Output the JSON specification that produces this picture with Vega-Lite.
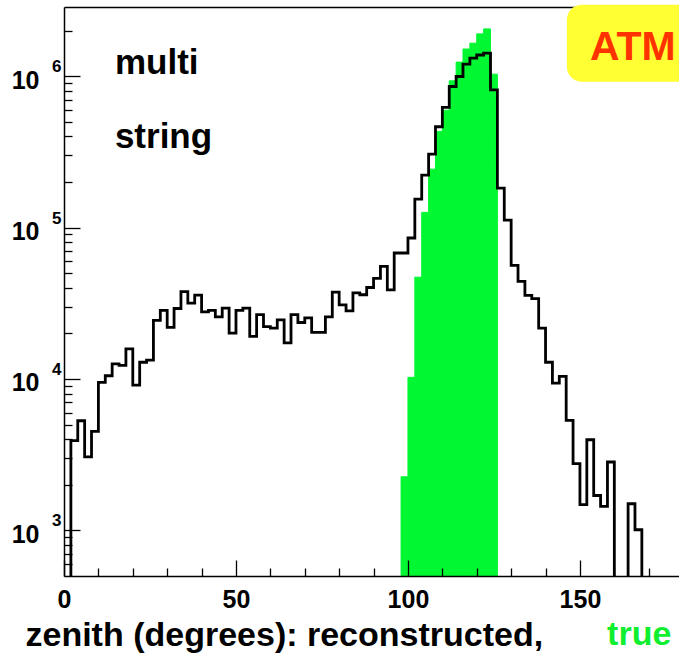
{
  "$schema": "https://vega.github.io/schema/vega-lite/v6.json",
  "width": 615,
  "height": 569,
  "autosize": {"type": "none"},
  "padding": {"left": 64, "top": 7, "right": 0, "bottom": 78},
  "background": "white",
  "config": {
    "view": {"stroke": null},
    "font": "Liberation Sans",
    "axis": {
      "domainColor": "black",
      "domainWidth": 1.5,
      "tickColor": "black",
      "tickWidth": 1.3,
      "grid": false,
      "labelColor": "black",
      "labelFont": "Liberation Sans",
      "labelFontWeight": "bold",
      "titleColor": "black",
      "titleFont": "Liberation Sans",
      "titleFontWeight": "bold"
    }
  },
  "datasets": {
    "reco": [
      {"lo": 0, "hi": 2, "n": 1},
      {"lo": 2, "hi": 4, "n": 3920},
      {"lo": 4, "hi": 6, "n": 5300},
      {"lo": 6, "hi": 8, "n": 3060},
      {"lo": 8, "hi": 10, "n": 4510},
      {"lo": 10, "hi": 12, "n": 9500},
      {"lo": 12, "hi": 14, "n": 10500},
      {"lo": 14, "hi": 16, "n": 12600},
      {"lo": 16, "hi": 18, "n": 12300},
      {"lo": 18, "hi": 20, "n": 15800},
      {"lo": 20, "hi": 22, "n": 9100},
      {"lo": 22, "hi": 24, "n": 12900},
      {"lo": 24, "hi": 26, "n": 13300},
      {"lo": 26, "hi": 28, "n": 24400},
      {"lo": 28, "hi": 30, "n": 28400},
      {"lo": 30, "hi": 32, "n": 21900},
      {"lo": 32, "hi": 34, "n": 29200},
      {"lo": 34, "hi": 36, "n": 37700},
      {"lo": 36, "hi": 38, "n": 31700},
      {"lo": 38, "hi": 40, "n": 35800},
      {"lo": 40, "hi": 42, "n": 27700},
      {"lo": 42, "hi": 44, "n": 28400},
      {"lo": 44, "hi": 46, "n": 25700},
      {"lo": 46, "hi": 48, "n": 29400},
      {"lo": 48, "hi": 50, "n": 20100},
      {"lo": 50, "hi": 52, "n": 28400},
      {"lo": 52, "hi": 54, "n": 29400},
      {"lo": 54, "hi": 56, "n": 19100},
      {"lo": 56, "hi": 58, "n": 26600},
      {"lo": 58, "hi": 60, "n": 22200},
      {"lo": 60, "hi": 62, "n": 21700},
      {"lo": 62, "hi": 64, "n": 24600},
      {"lo": 64, "hi": 66, "n": 17300},
      {"lo": 66, "hi": 68, "n": 26600},
      {"lo": 68, "hi": 70, "n": 23600},
      {"lo": 70, "hi": 72, "n": 25300},
      {"lo": 72, "hi": 74, "n": 20300},
      {"lo": 74, "hi": 76, "n": 20300},
      {"lo": 76, "hi": 78, "n": 25700},
      {"lo": 78, "hi": 80, "n": 37500},
      {"lo": 80, "hi": 82, "n": 30900},
      {"lo": 82, "hi": 84, "n": 28200},
      {"lo": 84, "hi": 86, "n": 37000},
      {"lo": 86, "hi": 88, "n": 36000},
      {"lo": 88, "hi": 90, "n": 40200},
      {"lo": 90, "hi": 92, "n": 46100},
      {"lo": 92, "hi": 94, "n": 55400},
      {"lo": 94, "hi": 96, "n": 38800},
      {"lo": 96, "hi": 98, "n": 67900},
      {"lo": 98, "hi": 100, "n": 67900},
      {"lo": 100, "hi": 102, "n": 85300},
      {"lo": 102, "hi": 104, "n": 154000},
      {"lo": 104, "hi": 106, "n": 222000},
      {"lo": 106, "hi": 108, "n": 305000},
      {"lo": 108, "hi": 110, "n": 463000},
      {"lo": 110, "hi": 112, "n": 621000},
      {"lo": 112, "hi": 114, "n": 854000},
      {"lo": 114, "hi": 116, "n": 994000},
      {"lo": 116, "hi": 118, "n": 1200000},
      {"lo": 118, "hi": 120, "n": 1315000},
      {"lo": 120, "hi": 122, "n": 1378000},
      {"lo": 122, "hi": 124, "n": 1420000},
      {"lo": 124, "hi": 126, "n": 812000},
      {"lo": 126, "hi": 128, "n": 182000},
      {"lo": 128, "hi": 130, "n": 112000},
      {"lo": 130, "hi": 132, "n": 56200},
      {"lo": 132, "hi": 134, "n": 44100},
      {"lo": 134, "hi": 136, "n": 35600},
      {"lo": 136, "hi": 138, "n": 33900},
      {"lo": 138, "hi": 140, "n": 21700},
      {"lo": 140, "hi": 142, "n": 12900},
      {"lo": 142, "hi": 144, "n": 9400},
      {"lo": 144, "hi": 146, "n": 10400},
      {"lo": 146, "hi": 148, "n": 5330},
      {"lo": 148, "hi": 150, "n": 2760},
      {"lo": 150, "hi": 152, "n": 1480},
      {"lo": 152, "hi": 154, "n": 3970},
      {"lo": 154, "hi": 156, "n": 1700},
      {"lo": 156, "hi": 158, "n": 1440},
      {"lo": 158, "hi": 160, "n": 2830},
      {"lo": 160, "hi": 162, "n": 1},
      {"lo": 162, "hi": 164, "n": 1},
      {"lo": 164, "hi": 166, "n": 1500},
      {"lo": 166, "hi": 168, "n": 1010},
      {"lo": 168, "hi": 170, "n": 1},
      {"lo": 170, "hi": 172, "n": 1},
      {"lo": 172, "hi": 174, "n": 1},
      {"lo": 174, "hi": 176, "n": 1},
      {"lo": 176, "hi": 178, "n": 1},
      {"lo": 178, "hi": 180, "n": 1}
    ],
    "truth": [
      {"lo": 98, "hi": 100, "n": 2260},
      {"lo": 100, "hi": 102, "n": 10250},
      {"lo": 102, "hi": 104, "n": 47000},
      {"lo": 104, "hi": 106, "n": 126000},
      {"lo": 106, "hi": 108, "n": 243000},
      {"lo": 108, "hi": 110, "n": 431000},
      {"lo": 110, "hi": 112, "n": 595000},
      {"lo": 112, "hi": 114, "n": 931000},
      {"lo": 114, "hi": 116, "n": 1237000},
      {"lo": 116, "hi": 118, "n": 1510000},
      {"lo": 118, "hi": 120, "n": 1650000},
      {"lo": 120, "hi": 122, "n": 1900000},
      {"lo": 122, "hi": 124, "n": 2050000},
      {"lo": 124, "hi": 126, "n": 1030000}
    ],
    "decades": [
      {"v": 1000, "e": "3"},
      {"v": 10000, "e": "4"},
      {"v": 100000, "e": "5"},
      {"v": 1000000, "e": "6"}
    ],
    "single": [{}]
  },
  "resolve": {"axis": {"x": "independent", "y": "independent"}},
  "layer": [
    {
      "data": {"name": "truth"},
      "mark": {"type": "rect", "color": "#00f732", "stroke": "#00f732", "strokeWidth": 1},
      "encoding": {
        "x": {
          "field": "lo", "type": "quantitative",
          "scale": {"domain": [0, 178.8], "nice": false, "zero": false},
          "axis": {
            "orient": "bottom", "values": [0, 50, 100, 150], "tickSize": -16,
            "labelFontSize": 25, "labelPadding": 27, "labelFlush": false, "labelOverlap": false,
            "title": "zenith (degrees): reconstructed,", "titleFontSize": 34,
            "titleAnchor": "start", "titleAlign": "left", "titleBaseline": "alphabetic",
            "titleX": -39, "titleY": 69, "zindex": 1
          }
        },
        "x2": {"field": "hi"},
        "y": {
          "field": "n", "type": "quantitative",
          "scale": {"type": "log", "domain": [500, 2860000], "nice": false},
          "axis": {
            "orient": "left", "values": [1000, 10000, 100000, 1000000], "tickSize": -16,
            "labelExpr": "'10'", "labelFontSize": 25, "labelPadding": 41, "labelOffset": 4,
            "labelFlush": false, "labelOverlap": false, "title": null, "zindex": 1
          }
        },
        "y2": {"datum": 500}
      }
    },
    {
      "data": {"name": "reco"},
      "mark": {"type": "line", "interpolate": "step-after", "color": "black", "strokeWidth": 2.8, "clip": true},
      "encoding": {
        "x": {
          "field": "lo", "type": "quantitative",
          "scale": {"domain": [0, 178.8], "nice": false, "zero": false},
          "axis": {
            "orient": "bottom", "values": [10, 20, 30, 40, 60, 70, 80, 90, 110, 120, 130, 140, 160, 170],
            "tickSize": -8, "labels": false, "domain": false, "title": null, "zindex": 1
          }
        },
        "y": {
          "field": "n", "type": "quantitative",
          "scale": {"type": "log", "domain": [500, 2860000], "nice": false},
          "axis": {
            "orient": "left",
            "values": [600, 700, 800, 900, 2000, 3000, 4000, 5000, 6000, 7000, 8000, 9000, 20000, 30000, 40000, 50000, 60000, 70000, 80000, 90000, 200000, 300000, 400000, 500000, 600000, 700000, 800000, 900000, 2000000],
            "tickSize": -8, "labels": false, "domain": false, "title": null, "zindex": 1
          }
        }
      }
    },
    {
      "data": {"name": "decades"},
      "mark": {"type": "text", "font": "Liberation Sans", "fontWeight": "bold", "fontSize": 17, "align": "left", "baseline": "alphabetic", "dx": -12, "dy": -4, "color": "black"},
      "encoding": {
        "x": {
          "datum": 0, "type": "quantitative",
          "scale": {"domain": [0, 178.8], "nice": false, "zero": false},
          "axis": {"orient": "top", "ticks": false, "labels": false, "domain": true, "title": null, "zindex": 0}
        },
        "y": {"field": "v", "type": "quantitative", "scale": {"type": "log", "domain": [500, 2860000], "nice": false}, "axis": null},
        "text": {"field": "e"}
      }
    },
    {
      "data": {"name": "single"},
      "mark": {"type": "text", "text": "multi", "font": "Liberation Sans", "fontWeight": "bold", "fontSize": 35, "align": "left", "baseline": "alphabetic", "color": "black"},
      "encoding": {
        "x": {"datum": 14.8, "type": "quantitative", "scale": {"domain": [0, 178.8], "nice": false, "zero": false}, "axis": null},
        "y": {"datum": 1035000, "type": "quantitative", "scale": {"type": "log", "domain": [500, 2860000], "nice": false}, "axis": null}
      }
    },
    {
      "data": {"name": "single"},
      "mark": {"type": "text", "text": "string", "font": "Liberation Sans", "fontWeight": "bold", "fontSize": 35, "align": "left", "baseline": "alphabetic", "color": "black"},
      "encoding": {
        "x": {"datum": 14.8, "type": "quantitative", "scale": {"domain": [0, 178.8], "nice": false, "zero": false}, "axis": null},
        "y": {"datum": 336000, "type": "quantitative", "scale": {"type": "log", "domain": [500, 2860000], "nice": false}, "axis": null}
      }
    },
    {
      "data": {"name": "single"},
      "mark": {"type": "rect", "color": "#ffff33", "cornerRadius": 15},
      "encoding": {
        "x": {"datum": 146.2, "type": "quantitative", "scale": {"domain": [0, 178.8], "nice": false, "zero": false}, "axis": null},
        "x2": {"datum": 200},
        "y": {"datum": 2955000, "type": "quantitative", "scale": {"type": "log", "domain": [500, 2860000], "nice": false}, "axis": null},
        "y2": {"datum": 917000}
      }
    },
    {
      "data": {"name": "single"},
      "mark": {"type": "text", "text": "ATM", "font": "Liberation Sans", "fontWeight": "bold", "fontSize": 41, "align": "left", "baseline": "alphabetic", "color": "#ff3300"},
      "encoding": {
        "x": {"datum": 152.9, "type": "quantitative", "scale": {"domain": [0, 178.8], "nice": false, "zero": false}, "axis": null},
        "y": {"datum": 1281000, "type": "quantitative", "scale": {"type": "log", "domain": [500, 2860000], "nice": false}, "axis": null}
      }
    },
    {
      "data": {"name": "single"},
      "mark": {"type": "text", "text": "true", "font": "Liberation Sans", "fontWeight": "bold", "fontSize": 34, "align": "left", "baseline": "alphabetic", "color": "#10ee30"},
      "encoding": {
        "x": {"datum": 157.9, "type": "quantitative", "scale": {"domain": [0, 178.8], "nice": false, "zero": false}, "axis": null},
        "y": {"datum": 176, "type": "quantitative", "scale": {"type": "log", "domain": [500, 2860000], "nice": false}, "axis": null}
      }
    }
  ]
}
